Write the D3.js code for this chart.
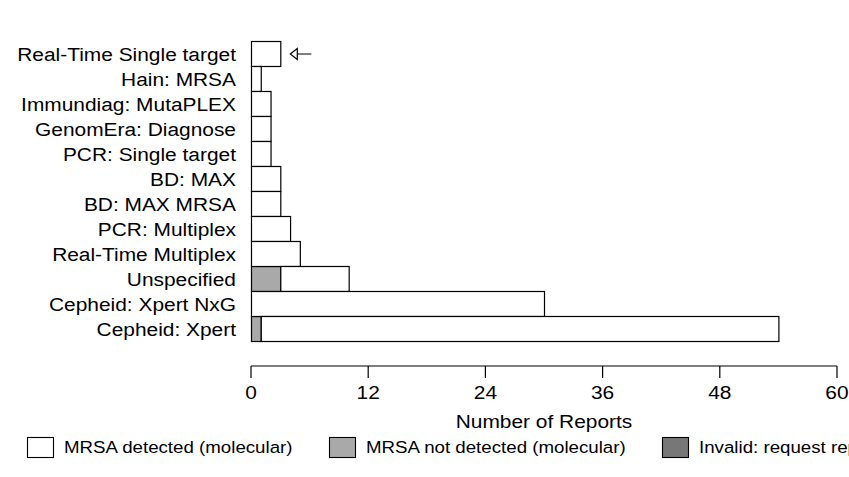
<!DOCTYPE html>
<html><head><meta charset="utf-8">
<script src="https://cdn.jsdelivr.net/npm/d3@7"></script>
<style>body{margin:0;background:#fff}svg{display:block}text{font-family:"Liberation Sans",Arial,sans-serif;fill:#000}</style>
</head><body>
<script>
const categories = ["Real-Time Single target","Hain: MRSA","Immundiag: MutaPLEX","GenomEra: Diagnose","PCR: Single target","BD: MAX","BD: MAX MRSA","PCR: Multiplex","Real-Time Multiplex","Unspecified","Cepheid: Xpert NxG","Cepheid: Xpert"];
const notDetected = [0,0,0,0,0,0,0,0,0,3,0,1];
const detected    = [3,1,2,2,2,3,3,4,5,7,30,53];
const invalid     = [0,0,0,0,0,0,0,0,0,0,0,0];
const xTicks = [0,12,24,36,48,60];
const seriesNames = ["MRSA detected (molecular)","MRSA not detected (molecular)","Invalid: request repeat specimen"];
const seriesColors = {"MRSA detected (molecular)":"#ffffff","MRSA not detected (molecular)":"#a9a9a9","Invalid: request repeat specimen":"#777777"};
const arrowCategory = "Real-Time Single target";

const W=849,H=477, SX=1.1;
const svg=d3.select("body").append("svg").attr("width",W).attr("height",H);
const x=d3.scaleLinear().domain([0,60]).range([251,837]);
const y=d3.scaleBand().domain(categories).range([41,341]).padding(0);

function txt(g,str,tx,ty,anchor,size){
  return g.append("text").attr("transform",`translate(${tx},${ty}) scale(${SX},1)`)
    .attr("text-anchor",anchor).style("font-size",size+"px").text(str);
}

// stacked data: not detected, detected, invalid
const rows = categories.map((c,i)=>({cat:c,"MRSA not detected (molecular)":notDetected[i],"MRSA detected (molecular)":detected[i],"Invalid: request repeat specimen":invalid[i]}));
const stack=d3.stack().keys(["MRSA not detected (molecular)","MRSA detected (molecular)","Invalid: request repeat specimen"]);
const layers=stack(rows);
layers.forEach(layer=>{
  svg.append("g").selectAll("rect").data(layer.filter(d=>d[1]-d[0]>0)).join("rect")
    .attr("x",d=>x(d[0])+0.5).attr("y",d=>y(d.data.cat)+0.5)
    .attr("width",d=>x(d[1])-x(d[0])).attr("height",y.bandwidth())
    .attr("fill",seriesColors[layer.key]).attr("stroke","#000").attr("stroke-width",1.2);
});

// category labels
const lg=svg.append("g");
categories.forEach(c=>txt(lg,c,236,y(c)+y.bandwidth()/2+7,"end",19));

// x axis
const ax=svg.append("g").attr("transform","translate(0,366)");
ax.append("line").attr("x1",x(0)).attr("x2",x(60)).attr("stroke","#000").attr("stroke-width",1.2);
xTicks.forEach(t=>{
  ax.append("line").attr("x1",x(t)).attr("x2",x(t)).attr("y1",0).attr("y2",12).attr("stroke","#000").attr("stroke-width",1.2);
  txt(ax,String(t),x(t),33,"middle",19);
});
txt(svg,"Number of Reports",544,428,"middle",19);

// arrow annotation
const ay=y(arrowCategory)+y.bandwidth()/2+0.5;
const ax0=x(3)+10;
svg.append("path").attr("d",`M${ax0},${ay} L${ax0+7},${ay-5.5} L${ax0+7},${ay+5.5} Z M${ax0+7},${ay} L${ax0+21},${ay}`)
  .attr("fill","none").attr("stroke","#000").attr("stroke-width",1.2);

// legend
const legX=[27,329,662];
const leg=svg.append("g");
seriesNames.forEach((n,i)=>{
  leg.append("rect").attr("x",legX[i]+0.5).attr("y",437.5).attr("width",26).attr("height",20)
    .attr("fill",seriesColors[n]).attr("stroke","#000").attr("stroke-width",1.1);
  txt(leg,n,legX[i]+37,453,"start",17);
});
</script>
</body></html>
